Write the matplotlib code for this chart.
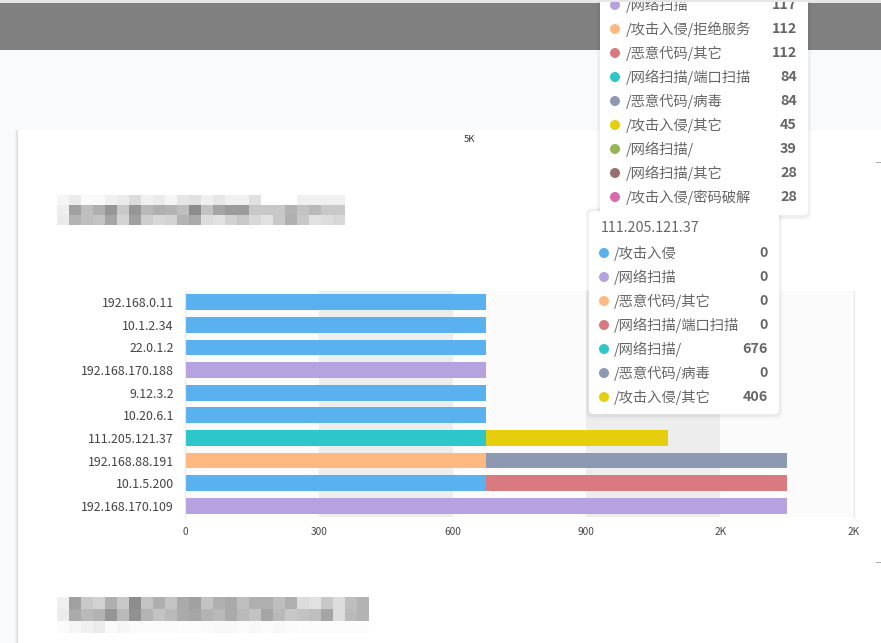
import matplotlib
matplotlib.use('Agg')
import matplotlib.pyplot as plt
import numpy as np
from matplotlib.patches import Rectangle, FancyBboxPatch, Ellipse

plt.rcParams['font.family'] = ['Noto Sans CJK SC', 'DejaVu Sans']

# ---------------- 数据
ips = ['192.168.0.11', '10.1.2.34', '22.0.1.2', '192.168.170.188', '9.12.3.2',
       '10.20.6.1', '111.205.121.37', '192.168.88.191', '10.1.5.200', '192.168.170.109']
series_names = ['/攻击入侵', '/网络扫描', '/恶意代码/其它', '/网络扫描/端口扫描',
                '/网络扫描/', '/恶意代码/病毒', '/攻击入侵/其它']
series_colors = ['#5ab1ef', '#b6a2de', '#ffb980', '#d87a80', '#2ec7c9', '#8d98b3', '#e5cf0d']
attack       = [676, 676, 676, 0, 676, 676, 0, 0, 676, 0]
scan         = [0, 0, 0, 676, 0, 0, 0, 0, 0, 1350]
malware_oth  = [0, 0, 0, 0, 0, 0, 0, 676, 0, 0]
port_scan    = [0, 0, 0, 0, 0, 0, 0, 0, 674, 0]
scan_slash   = [0, 0, 0, 0, 0, 0, 676, 0, 0, 0]
virus        = [0, 0, 0, 0, 0, 0, 0, 674, 0, 0]
attack_oth   = [0, 0, 0, 0, 0, 0, 406, 0, 0, 0]
series_vals = [attack, scan, malware_oth, port_scan, scan_slash, virus, attack_oth]

x_ticks = [0, 300, 600, 900, 1200, 1500]
x_tick_labels = ['0', '300', '600', '900', '2K', '2K']

# 上面那个提示框（被截断）
tip1_names = ['/网络扫描', '/攻击入侵/拒绝服务', '/恶意代码/其它', '/网络扫描/端口扫描', '/恶意代码/病毒',
              '/攻击入侵/其它', '/网络扫描/', '/网络扫描/其它', '/攻击入侵/密码破解']
tip1_vals = [117, 112, 112, 84, 84, 45, 39, 28, 28]
tip1_colors = ['#b6a2de', '#ffb980', '#d87a80', '#2ec7c9', '#8d98b3', '#e5cf0d', '#97b552', '#95706d', '#dc69aa']

# 马赛克标题（灰度）
mosaic1 = [
    [245, 235, 250, 250, 240, 235, 220, 240, 235, 245, 230, 225, 240, 230, 240, 240, 225, 255, 255, 255, 240, 240, 240, 240],
    [238, 160, 190, 175, 150, 200, 150, 185, 175, 180, 190, 140, 195, 165, 155, 155, 200, 200, 200, 180, 195, 185, 200, 200],
    [235, 180, 190, 195, 165, 210, 160, 205, 215, 210, 180, 170, 220, 225, 210, 200, 215, 225, 200, 175, 200, 225, 220, 215],
]
mosaic2 = [
    [240, 160, 200, 210, 175, 200, 140, 195, 175, 195, 170, 160, 195, 175, 170, 190, 175, 175, 190, 175, 220, 225, 200, 220, 190, 180],
    [235, 170, 185, 180, 150, 185, 145, 180, 195, 185, 170, 165, 180, 185, 170, 185, 195, 165, 185, 200, 195, 190, 165, 220, 185, 180],
    [250, 245, 240, 235, 250, 245, 250, 250, 250, 250, 252, 252, 250, 248, 248, 250, 248, 250, 248, 250, 252, 252, 252, 252, 252, 252],
]

W, H = 881, 643
fig = plt.figure(figsize=(W / 100, H / 100), dpi=100)
fig.patch.set_facecolor('white')

def fx(x):
    return x / W

def fy(y):
    return 1 - y / H

def rect(x0, y0, x1, y1, color, z=1, **kw):
    fig.add_artist(Rectangle((fx(x0), fy(y1)), fx(x1) - fx(x0), fy(y0) - fy(y1),
                             transform=fig.transFigure, facecolor=color, edgecolor='none', zorder=z, **kw))

# 页面背景
rect(0, 0, W, 3, '#e6e6e6', z=0.1)
rect(0, 3, W, 50, '#808080', z=0.1)
rect(0, 50, W, 130, '#f9fafc', z=0.1)
rect(0, 130, 18, H, '#f9fafc', z=0.1)
for i, c in enumerate(['#f0f1f3', '#e6e7e9', '#dddee0']):
    rect(15 + i, 130, 16 + i, H, c, z=0.2)
rect(876, 162, W, 163, '#aaaaaa', z=0.2)
rect(876, 562, W, 563, '#aaaaaa', z=0.2)
fig.text(fx(469), fy(139), '5K', fontsize=6.8, color='#333333', ha='center', va='center')

# 马赛克
for m, (x0, y0), rh in [(mosaic1, (57, 195), 10), (mosaic2, (57, 597), 12)]:
    arr = np.array(m, dtype=float) / 255
    rows, cols = arr.shape
    cw = 12
    ax_m = fig.add_axes([fx(x0), fy(y0 + rows * rh), cols * cw / W, rows * rh / H])
    ax_m.imshow(arr, cmap='gray', vmin=0, vmax=1, aspect='auto', interpolation='nearest')
    ax_m.axis('off')

# ---------------- 条形图
ax = fig.add_axes([fx(185), fy(517), fx(854) - fx(185), fy(291) - fy(517)])
ax.set_xlim(0, 1500)
ax.set_ylim(len(ips) - 0.5, -0.5)
for i, (a, b) in enumerate(zip(x_ticks[:-1], x_ticks[1:])):
    ax.axvspan(a, b, color='#ededed' if i % 2 else '#fbfbfb', zorder=0, lw=0)

y = np.arange(len(ips))
left = np.zeros(len(ips))
for name, vals, col in zip(series_names, series_vals, series_colors):
    v = np.array(vals, dtype=float)
    ax.barh(y, v, left=left, height=0.7, color=col, zorder=2, label=name)
    left += v

ax.set_yticks(y)
ax.set_yticklabels(ips, fontsize=8.9, color='#444444')
ax.set_xticks(x_ticks)
ax.set_xticklabels(x_tick_labels, fontsize=7.3, color='#444444')
ax.tick_params(axis='both', length=0)
ax.tick_params(axis='y', pad=8)
ax.tick_params(axis='x', pad=7)
for s in ['top', 'bottom']:
    ax.spines[s].set_visible(False)
ax.spines['left'].set_color('#e8e8e8')
ax.spines['right'].set_color('#e8e8e8')

# ---------------- 提示框
def tooltip(x0, y0, x1, y1, title, names, vals, colors, row0, dot_x, val_x, text_dx):
    for k, a in enumerate([0.012, 0.018, 0.028]):
        pad = 4 - k
        fig.add_artist(FancyBboxPatch((fx(x0 - pad), fy(y1 + pad + 1)), fx(x1 + pad) - fx(x0 - pad),
                                      fy(y0 - pad) - fy(y1 + pad + 1),
                                      boxstyle='round,pad=0,rounding_size=0.008', transform=fig.transFigure,
                                      facecolor='black', alpha=a, edgecolor='none', zorder=5))
    fig.add_artist(FancyBboxPatch((fx(x0), fy(y1)), fx(x1) - fx(x0), fy(y0) - fy(y1),
                                  boxstyle='round,pad=0,rounding_size=0.006', transform=fig.transFigure,
                                  facecolor='white', edgecolor='none', zorder=6))
    if title:
        fig.text(fx(x0 + 12), fy(row0 - 25), title, fontsize=10.3, color='#666666', va='center', zorder=7)
    for i, (n, v, c) in enumerate(zip(names, vals, colors)):
        yy = row0 + 24 * i
        fig.add_artist(Ellipse((fx(dot_x), fy(yy)), 10 / W, 10 / H, transform=fig.transFigure,
                               facecolor=c, edgecolor='none', zorder=7))
        fig.text(fx(dot_x + text_dx), fy(yy), n, fontsize=10.3, color='#666666', va='center', zorder=7)
        fig.text(fx(val_x), fy(yy), str(v), fontsize=10.3, color='#666666', fontweight='bold',
                 ha='right', va='center', zorder=7)

tooltip(600, -20, 808, 215, None, tip1_names, tip1_vals, tip1_colors, 5, 615, 797, 11)
tip2_vals = [series_vals[k][ips.index('111.205.121.37')] for k in range(len(series_names))]
tooltip(589, 211, 779, 414, '111.205.121.37', series_names, tip2_vals, series_colors, 253, 604, 768, 10)

# 顶部细线覆盖
rect(0, 0, W, 2, '#e6e6e6', z=8)

fig.savefig('out.png', dpi=100)
